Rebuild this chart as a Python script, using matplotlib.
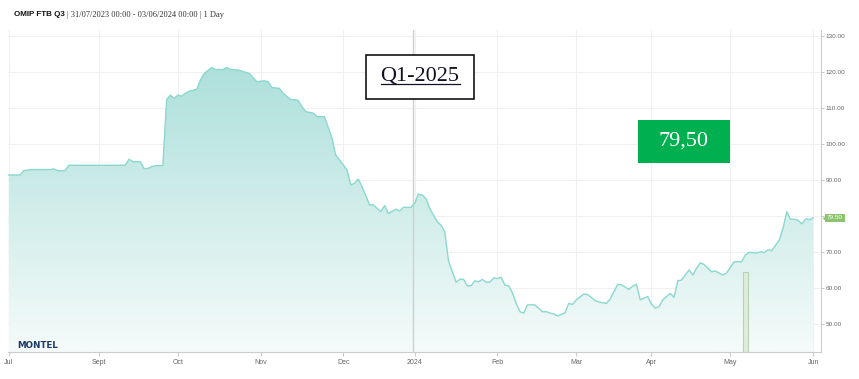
import numpy as np
import matplotlib
matplotlib.use("Agg")
import matplotlib.pyplot as plt
from matplotlib.colors import LinearSegmentedColormap
from matplotlib.lines import Line2D

# OMIP FTB Q3 daily closes (trading days)
dates = [
    "2023-07-31", "2023-08-03", "2023-08-04", "2023-08-08", "2023-08-15", "2023-08-16",
    "2023-08-17", "2023-08-21", "2023-08-22", "2023-09-12", "2023-09-13", "2023-09-14",
    "2023-09-18", "2023-09-19", "2023-09-20", "2023-09-21", "2023-09-22", "2023-09-26",
    "2023-09-27", "2023-09-28", "2023-09-29", "2023-10-02", "2023-10-03", "2023-10-04",
    "2023-10-05", "2023-10-09", "2023-10-10", "2023-10-11", "2023-10-13", "2023-10-16",
    "2023-10-18", "2023-10-19", "2023-10-20", "2023-10-24", "2023-10-27", "2023-10-31",
    "2023-11-02", "2023-11-03", "2023-11-06", "2023-11-08", "2023-11-09", "2023-11-13",
    "2023-11-15", "2023-11-16", "2023-11-17", "2023-11-21", "2023-11-22", "2023-11-24",
    "2023-11-28", "2023-11-29", "2023-11-30", "2023-12-04", "2023-12-05", "2023-12-06",
    "2023-12-07", "2023-12-08", "2023-12-12", "2023-12-13", "2023-12-15", "2023-12-18",
    "2023-12-19", "2023-12-21", "2023-12-22", "2023-12-27", "2023-12-29", "2024-01-02",
    "2024-01-03", "2024-01-04", "2024-01-05", "2024-01-08", "2024-01-10", "2024-01-11",
    "2024-01-12", "2024-01-15", "2024-01-17", "2024-01-18", "2024-01-19", "2024-01-22",
    "2024-01-23", "2024-01-24", "2024-01-25", "2024-01-26", "2024-01-29", "2024-01-30",
    "2024-01-31", "2024-02-01", "2024-02-02", "2024-02-05", "2024-02-06", "2024-02-07",
    "2024-02-08", "2024-02-09", "2024-02-12", "2024-02-13", "2024-02-15", "2024-02-19",
    "2024-02-20", "2024-02-21", "2024-02-22", "2024-02-23", "2024-02-27", "2024-02-28",
    "2024-02-29", "2024-03-01", "2024-03-05", "2024-03-06", "2024-03-08", "2024-03-11",
    "2024-03-13", "2024-03-14", "2024-03-18", "2024-03-19", "2024-03-21", "2024-03-22",
    "2024-03-25", "2024-03-26", "2024-03-28", "2024-04-02", "2024-04-03", "2024-04-04",
    "2024-04-05", "2024-04-09", "2024-04-10", "2024-04-11", "2024-04-12", "2024-04-15",
    "2024-04-16", "2024-04-17", "2024-04-18", "2024-04-19", "2024-04-22", "2024-04-24",
    "2024-04-25", "2024-04-29", "2024-04-30", "2024-05-03", "2024-05-07", "2024-05-08",
    "2024-05-09", "2024-05-13", "2024-05-14", "2024-05-15", "2024-05-16", "2024-05-17",
    "2024-05-21", "2024-05-22", "2024-05-23", "2024-05-24", "2024-05-27", "2024-05-28",
    "2024-05-29", "2024-05-30", "2024-05-31", "2024-06-03",
]
prices = [
    91.4, 91.4, 92.6, 92.9, 92.9, 93.1,
    92.6, 92.6, 94.1, 94.1, 95.8, 95.1,
    95.1, 93.2, 93.2, 93.7, 94.0, 94.0,
    112.4, 113.6, 112.7, 113.6, 113.3, 114.1,
    114.7, 115.2, 117.8, 119.6, 121.3, 120.7,
    120.7, 121.3, 120.7, 120.6, 119.6, 117.3,
    117.6, 117.3, 115.7, 115.5, 114.1, 112.4,
    112.2, 110.4, 109.0, 108.6, 107.6, 107.6,
    101.6, 96.9, 95.6, 92.8, 88.6, 89.1,
    90.3, 88.1, 83.1, 83.1, 81.2, 82.9,
    80.7, 81.9, 81.4, 82.4, 82.4, 83.5,
    86.1, 85.8, 84.9, 82.1, 78.4, 77.5,
    75.6, 67.5, 61.6, 62.4, 62.4, 60.6,
    60.6, 62.0, 61.7, 62.4, 61.6, 61.6,
    62.8, 62.6, 63.0, 60.8, 60.6, 58.7,
    55.7, 53.4, 53.0, 55.3, 55.3, 53.4,
    53.4, 53.0, 52.8, 52.2, 53.1, 55.7,
    55.4, 56.7, 58.3, 58.2, 56.5, 56.1,
    55.7, 56.9, 61.0, 60.9, 59.6, 60.5,
    61.0, 56.7, 57.6, 55.5, 54.4, 54.8,
    56.7, 58.5, 57.4, 62.0, 62.2, 63.6,
    65.0, 63.6, 65.5, 67.0, 66.5, 64.5,
    64.7, 63.6, 64.2, 67.3, 67.3, 69.2,
    69.9, 69.7, 70.1, 69.8, 70.6, 70.4,
    73.3, 76.6, 81.2, 79.1, 79.1, 78.8,
    77.8, 79.2, 79.0, 79.5,
]

# market closures on the ordinal (trading-day) axis
holidays = ["2023-12-25", "2023-12-26", "2024-01-01", "2024-03-29", "2024-04-01", "2024-05-01"]

tick_dates = ["2023-07-31", "2023-09-01", "2023-10-02", "2023-11-01", "2023-12-01", "2024-01-02",
              "2024-02-01", "2024-03-01", "2024-04-02", "2024-05-02", "2024-06-03"]
tick_labels = ["Jul", "Sept", "Oct", "Nov", "Dec", "2024", "Feb", "Mar", "Apr", "May", "Jun"]
y_ticks = [50, 60, 70, 80, 90, 100, 110, 120, 130]

marker_date = "2024-05-08"
marker_value = 64.5
last_price = 79.50
contract = "Q1-2025"
price_text = "79,50"

START = "2023-07-31"


def session(d):
    return np.busday_count(START, np.array(d, dtype="datetime64[D]"), holidays=holidays)


x = session(dates).astype(float)
y = np.array(prices)
xt = session(tick_dates)

W, H = 859, 379
fig = plt.figure(figsize=(W / 100, H / 100), dpi=100)
ax = fig.add_axes([8 / W, (H - 352) / H, 813 / W, 322 / H])

y_lo, y_hi = 42.2, 131.7
x_lo, x_hi = -0.2, 216.1
ax.set_xlim(x_lo, x_hi)
ax.set_ylim(y_lo, y_hi)

# gradient area fill clipped to the price polygon
poly = ax.fill_between(x, y, y_lo, facecolor="none", edgecolor="none")
cmap = LinearSegmentedColormap.from_list("g", ["#f5fbfa", "#ade0db"])
grad = np.linspace(0, 1, 256).reshape(-1, 1)
img = ax.imshow(grad, cmap=cmap, origin="lower", aspect="auto",
                extent=[x_lo, x_hi, y_lo, 122], zorder=1)
img.set_clip_path(poly.get_paths()[0], transform=ax.transData)
ax.set_xlim(x_lo, x_hi)
ax.set_ylim(y_lo, y_hi)

ax.plot(x, y, color="#8ad8cf", lw=1.0, zorder=3)

# small volume-like marker bar
ax.bar(session(marker_date), marker_value - y_lo, bottom=y_lo, width=1.3,
       color="#dfecd9", edgecolor="#b9d2b1", lw=0.8, zorder=2)

# crosshair at 2024
ax.axvline(session("2024-01-02") - 0.4, color="#cfcfcf", lw=1.0, zorder=2)

ax.set_xticks(xt)
ax.set_xticklabels(tick_labels)
ax.set_yticks(y_ticks)
ax.set_yticklabels([f"{v:.2f}" for v in y_ticks])
ax.yaxis.tick_right()
ax.grid(True, color="#f0f0f0", lw=0.8, zorder=0)
ax.set_axisbelow(True)
for s in ["left", "top"]:
    ax.spines[s].set_visible(False)
for s in ["right", "bottom"]:
    ax.spines[s].set_color("#cccccc")
    ax.spines[s].set_linewidth(0.8)
ax.tick_params(axis="x", length=3, color="#cccccc", labelsize=5, labelcolor="#666666", pad=2)
ax.tick_params(axis="y", length=2, color="#cccccc", labelsize=4.6, labelcolor="#666666", pad=1.5)
for lab in ax.get_xticklabels() + ax.get_yticklabels():
    lab.set_fontfamily("Liberation Sans")

# last price flag on the right axis
ax.plot([x_hi + 1.2], [last_price], marker="<", ms=4, color="#8cc46d",
        clip_on=False, zorder=5)
ax.text(x_hi + 1.6, last_price, f"{last_price:.2f}", fontsize=4.6, color="white",
        va="center", ha="left", family="Liberation Sans", zorder=6,
        bbox=dict(boxstyle="square,pad=0.25", fc="#8cc46d", ec="none"))

# header
fig.text(14 / W, 1 - 15 / H, "OMIP FTB Q3", fontsize=5.8, weight="bold",
         family="Liberation Sans", va="center", ha="left", color="#111111")
fig.text(67 / W, 1 - 15 / H, "| 31/07/2023 00:00 - 03/06/2024 00:00 | 1 Day", fontsize=6,
         family="Liberation Serif", va="center", ha="left", color="#333333")

# logo text
fig.text(17 / W, 1 - 346 / H, "MONTEL", fontsize=6.3, weight="heavy",
         family="DejaVu Sans", va="center", ha="left", color="#1c3a68")

# annotation boxes
fig.patches.append(plt.Rectangle((366 / W, 1 - 98.5 / H), 108 / W, 44 / H,
                                 transform=fig.transFigure, fc="white", ec="black", lw=1.1,
                                 zorder=10))
t = fig.text(420 / W, 1 - 76 / H, contract, fontsize=16, family="Liberation Serif",
             ha="center", va="center", color="#111122", zorder=11)
fig.patches.append(plt.Rectangle((638 / W, 1 - 163 / H), 92 / W, 43 / H,
                                 transform=fig.transFigure, fc="#00b050", ec="none", zorder=10))
fig.text(684 / W, 1 - 141 / H, price_text, fontsize=16, family="Liberation Serif",
         ha="center", va="center", color="white", zorder=11)

# underline for the contract label
fig.canvas.draw()
bb = t.get_window_extent()
uy = 1 - 83.8 / H
fig.add_artist(Line2D([bb.x0 / W, bb.x1 / W], [uy, uy], transform=fig.transFigure,
                      color="#111122", lw=0.9, zorder=12))

fig.savefig("out.png", dpi=100)
